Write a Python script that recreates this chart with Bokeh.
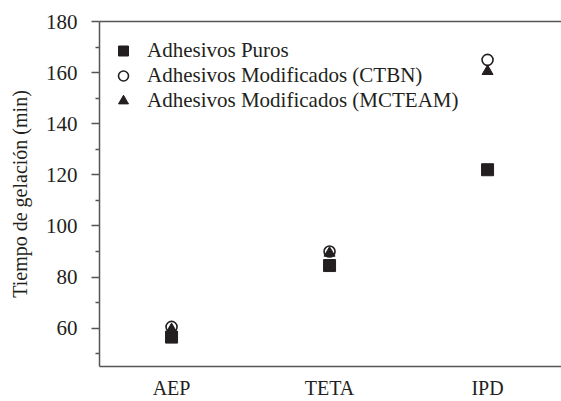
from bokeh.plotting import figure
from bokeh.models import Range1d, FixedTicker, LinearAxis, Legend, LegendItem, ColumnDataSource
from bokeh.embed import file_html
from bokeh.resources import INLINE

categories = ["AEP", "TETA", "IPD"]
puros = [56.5, 84.5, 122.0]
ctbn = [60.5, 90.0, 165.0]
mcteam = [59.5, 89.4, 160.5]
y_ticks = [60, 80, 100, 120, 140, 160, 180]
y_minor = [50, 70, 90, 110, 130, 150, 170]

x = list(range(1, len(categories) + 1))
FONT = "Liberation Serif"
INK = "#231f20"
AX = "#555555"

p = figure(width=561, height=401, output_backend="svg", toolbar_location=None,
           x_range=Range1d(0.544, 3.468), y_range=Range1d(45, 180),
           min_border_left=99, min_border_right=0, min_border_top=21, min_border_bottom=33)
p.outline_line_color = None
p.grid.visible = False
p.background_fill_color = "white"

src = ColumnDataSource(dict(x=x, puros=puros, ctbn=ctbn, mcteam=mcteam))
r1 = p.scatter("x", "puros", source=src, marker="square", size=12, fill_color=INK, line_color=INK)
r2 = p.scatter("x", "ctbn", source=src, marker="circle", size=11, fill_color=None, line_color=INK, line_width=1.6)
r3 = p.scatter("x", "mcteam", source=src, marker="triangle", size=11, fill_color=INK, line_color=INK)

xa = p.xaxis[0]
xa.ticker = FixedTicker(ticks=x)
xa.major_label_overrides = {i: c for i, c in zip(x, categories)}
xa.major_tick_line_color = None
xa.minor_tick_line_color = None
xa.major_tick_out = 0
xa.major_tick_in = 0
xa.minor_tick_out = 0
xa.axis_line_color = AX
xa.axis_line_width = 1.5
xa.major_label_text_font = FONT
xa.major_label_text_font_size = "20px"
xa.major_label_text_color = INK
xa.major_label_standoff = 10

ya = p.yaxis[0]
ya.ticker = FixedTicker(ticks=y_ticks, minor_ticks=y_minor)
ya.axis_line_color = AX
ya.axis_line_width = 1.5
ya.major_tick_line_color = AX
ya.minor_tick_line_color = AX
ya.major_tick_line_width = 1.5
ya.minor_tick_line_width = 1.5
ya.major_tick_out = 8
ya.major_tick_in = 0
ya.minor_tick_out = 4
ya.minor_tick_in = 0
ya.major_label_text_font = FONT
ya.major_label_text_font_size = "21px"
ya.major_label_text_color = INK
ya.major_label_standoff = 14
ya.axis_label = "Tiempo de gelación (min)"
ya.axis_label_text_font = FONT
ya.axis_label_text_font_size = "20px"
ya.axis_label_text_font_style = "normal"
ya.axis_label_text_color = INK
ya.axis_label_standoff = 12

top = LinearAxis(major_tick_line_color=None, minor_tick_line_color=None,
                 major_tick_out=0, minor_tick_out=0,
                 major_label_text_font_size="0px", axis_line_color=AX,
                 axis_line_width=1.5)
top.ticker = FixedTicker(ticks=[])
p.add_layout(top, "above")

legend = Legend(items=[
    LegendItem(label="Adhesivos Puros", renderers=[r1]),
    LegendItem(label="Adhesivos Modificados (CTBN)", renderers=[r2]),
    LegendItem(label="Adhesivos Modificados (MCTEAM)", renderers=[r3]),
], location=(10, 253))
legend.border_line_color = None
legend.background_fill_alpha = 0
legend.padding = 0
legend.margin = 0
legend.spacing = 0
legend.glyph_width = 28
legend.glyph_height = 25
legend.label_height = 25
legend.label_standoff = 10
legend.label_text_font = FONT
legend.label_text_font_size = "21px"
legend.label_text_color = INK
p.add_layout(legend, "center")

open("out.html", "w").write(file_html(p, INLINE))
